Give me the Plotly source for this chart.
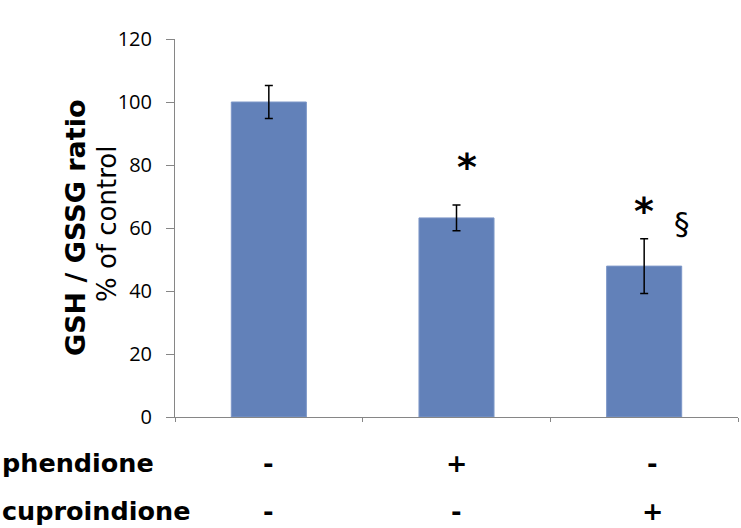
import plotly.graph_objects as go

groups = ["control", "phendione", "cuproindione"]
values = [100.0, 63.2, 47.9]
errors = [5.2, 4.1, 8.7]
phendione_signs = ["-", "+", "-"]
cuproindione_signs = ["-", "-", "+"]
y_ticks = [0, 20, 40, 60, 80, 100, 120]

W, H = 741, 528
L, R, T, B = 175, 3, 39, 111
PW = W - L - R
PH = H - T - B

def px_x(p):
    return (p - L) / PW

def px_y(p):
    return (H - B - p) / PH

fig = go.Figure()
fig.add_trace(go.Bar(
    x=groups, y=values,
    marker=dict(color="#6281B9", line=dict(color="#7D97C8", width=1)),
    width=0.4,
    error_y=dict(type="data", array=errors, visible=True,
                 color="black", thickness=1.5, width=4),
))

star_font = dict(family="DejaVu Sans", size=38, color="black")
ann = []
ann.append(dict(x=groups[1], y=79.5, text="<b>*</b>", showarrow=False, xshift=10,
                font=star_font, yanchor="middle"))
ann.append(dict(x=groups[2], y=65.5, text="<b>*</b>", showarrow=False, xshift=0,
                font=star_font, yanchor="middle"))
ann.append(dict(x=groups[2], y=61.5, text="§", showarrow=False, xshift=38,
                font=dict(family="DejaVu Sans", size=31, color="black"), yanchor="middle"))

row_font = dict(family="DejaVu Sans", size=25.5, color="black")
ann.append(dict(x=px_x(0), xref="paper", xanchor="left", y=px_y(463), yref="paper",
                yanchor="middle", text="<b>phendione</b>", showarrow=False, font=row_font))
ann.append(dict(x=px_x(0), xref="paper", xanchor="left", y=px_y(511), yref="paper",
                yanchor="middle", text="<b>cuproindione</b>", showarrow=False, font=row_font))
shifts = [0, 0, 8]
for i, g in enumerate(groups):
    ann.append(dict(x=g, xref="x", y=px_y(463), yref="paper", yanchor="middle",
                    text="<b>%s</b>" % phendione_signs[i], showarrow=False, xshift=shifts[i], font=row_font))
    ann.append(dict(x=g, xref="x", y=px_y(511), yref="paper", yanchor="middle",
                    text="<b>%s</b>" % cuproindione_signs[i], showarrow=False, xshift=shifts[i], font=row_font))

ann.append(dict(x=px_x(57.5), xref="paper", y=px_y(228), yref="paper",
                text="<b>GSH / GSSG ratio</b>", textangle=-90, showarrow=False,
                font=dict(family="DejaVu Sans", size=27, color="black")))
ann.append(dict(x=px_x(90), xref="paper", y=px_y(224), yref="paper",
                text="% of control", textangle=-90, showarrow=False,
                font=dict(family="DejaVu Sans", size=26, color="black")))

fig.update_layout(
    width=W, height=H,
    margin=dict(l=L, r=R, t=T, b=B, autoexpand=False),
    plot_bgcolor="white", paper_bgcolor="white",
    showlegend=False,
    bargap=0.6,
    annotations=ann,
)

fig.update_yaxes(range=[0, 120], tickvals=y_ticks, showgrid=False, zeroline=False,
                 showline=True, linecolor="#868686", linewidth=1,
                 ticks="outside", ticklen=8, tickcolor="#868686",
                 tickfont=dict(family="Open Sans", size=20, color="black"), ticklabelstandoff=10)
fig.update_xaxes(showticklabels=False, showline=True, linecolor="#868686", linewidth=1,
                 ticks="outside", ticklen=4, tickcolor="#868686", tickson="boundaries",
                 showgrid=False)

fig.write_html("out.html", config={"displayModeBar": False},
               post_script="document.body.style.margin='0';document.body.style.overflow='hidden';")
